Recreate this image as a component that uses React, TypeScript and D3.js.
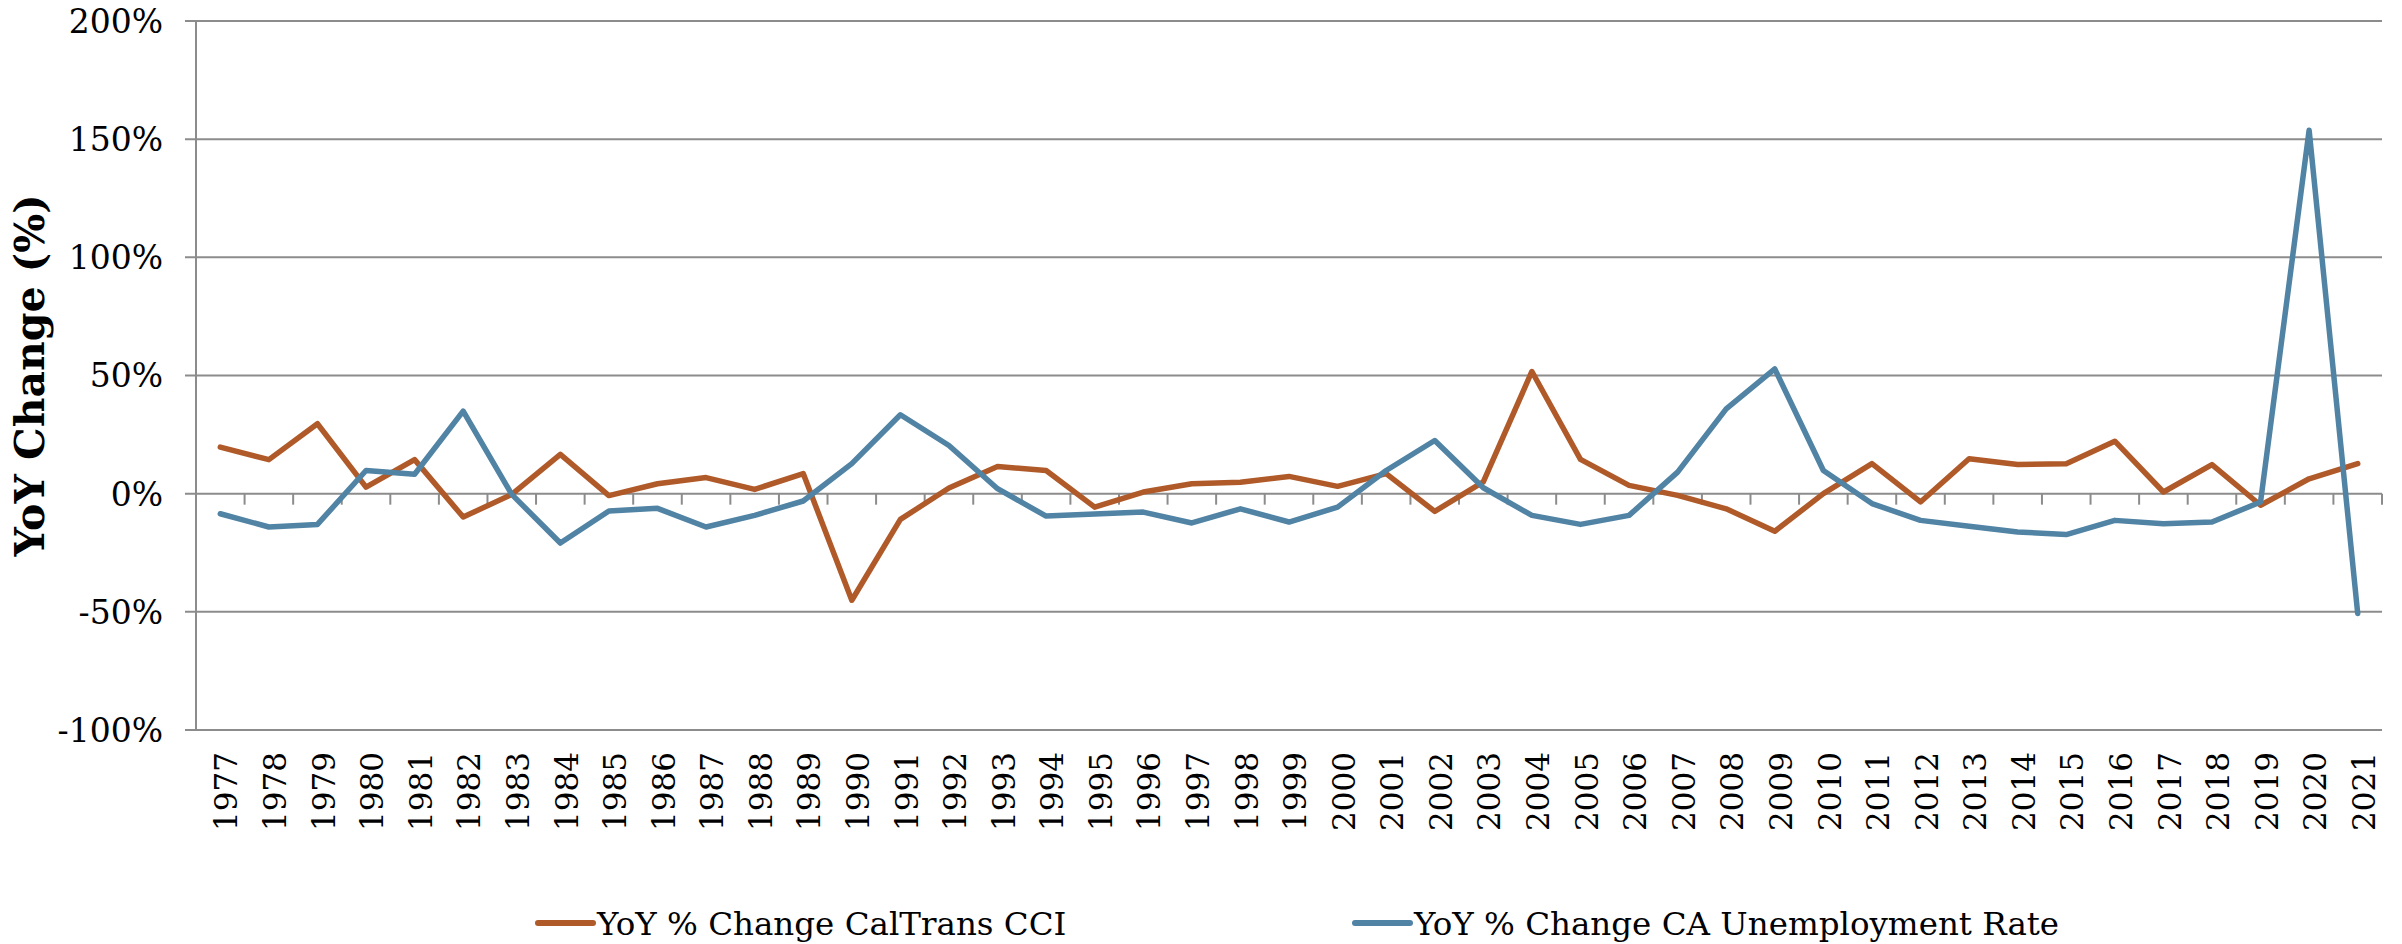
import { useEffect, useRef } from "react";
import * as d3 from "d3";

const years = [
  "1977", "1978", "1979", "1980", "1981", "1982", "1983", "1984", "1985", "1986",
  "1987", "1988", "1989", "1990", "1991", "1992", "1993", "1994", "1995", "1996",
  "1997", "1998", "1999", "2000", "2001", "2002", "2003", "2004", "2005", "2006",
  "2007", "2008", "2009", "2010", "2011", "2012", "2013", "2014", "2015", "2016",
  "2017", "2018", "2019", "2020", "2021",
];

// YoY % change, CalTrans construction cost index
const cciChange = [
  19.7, 14.4, 29.6, 2.8, 14.4, -9.9, -0.3, 16.6, -0.8, 4.2,
  6.8, 1.8, 8.5, -45.1, -10.9, 2.4, 11.5, 9.8, -5.7, 0.7,
  4.2, 4.8, 7.3, 3.1, 8.5, -7.5, 5.0, 51.7, 14.5, 3.5,
  -0.7, -6.4, -15.9, 0.0, 12.7, -3.5, 14.8, 12.3, 12.7, 22.2,
  0.7, 12.3, -4.9, 6.3, 12.7,
];

// YoY % change, CA unemployment rate
const unempChange = [
  -8.5, -14.1, -13.0, 9.8, 8.2, 34.9, -0.3, -20.9, -7.3, -6.2,
  -14.1, -9.2, -3.1, 12.7, 33.4, 20.4, 2.1, -9.5, -8.6, -7.8,
  -12.4, -6.4, -12.0, -5.7, 9.8, 22.5, 2.5, -9.2, -13.0, -9.2,
  9.1, 35.9, 52.8, 9.8, -4.2, -11.3, -13.8, -16.2, -17.3, -11.3,
  -12.7, -12.0, -3.5, 153.8, -50.7,
];

const yTicks = [-100, -50, 0, 50, 100, 150, 200];

const seriesNames = ["YoY % Change CalTrans CCI", "YoY % Change CA Unemployment Rate"];
const seriesColors = ["#B05A2A", "#5083A4"];

const FONT = "Georgia, 'DejaVu Serif', serif";

export default function App() {
  const svgRef = useRef(null);
  const width = 2402;
  const height = 944;

  useEffect(() => {
    const left = 196;
    const right = 2382;
    const top = 21;
    const bottom = 730;
    const grid = "#8C8C8C";

    const svg = d3.select(svgRef.current);
    svg.selectAll("*").remove();

    const x = d3.scaleBand().domain(years).range([left, right]).padding(0);
    const y = d3.scaleLinear().domain([-100, 200]).range([bottom, top]);
    const cx = (d) => x(d) + x.bandwidth() / 2;

    // gridlines
    svg
      .append("g")
      .selectAll("line")
      .data(yTicks)
      .join("line")
      .attr("x1", left - 11)
      .attr("x2", right)
      .attr("y1", (d) => y(d))
      .attr("y2", (d) => y(d))
      .attr("stroke", grid)
      .attr("stroke-width", 2);

    // y axis line
    svg
      .append("line")
      .attr("x1", left)
      .attr("x2", left)
      .attr("y1", y(200))
      .attr("y2", y(-100))
      .attr("stroke", grid)
      .attr("stroke-width", 2);

    // category ticks on the zero line
    const bounds = years.map((d) => x(d)).concat([right]);
    svg
      .append("g")
      .selectAll("line")
      .data(bounds)
      .join("line")
      .attr("x1", (d) => d)
      .attr("x2", (d) => d)
      .attr("y1", y(0))
      .attr("y2", y(0) + 11)
      .attr("stroke", grid)
      .attr("stroke-width", 2);

    // y tick labels
    svg
      .append("g")
      .selectAll("text")
      .data(yTicks)
      .join("text")
      .attr("x", 163)
      .attr("y", (d) => y(d))
      .attr("dy", "0.36em")
      .attr("text-anchor", "end")
      .attr("font-family", FONT)
      .attr("font-size", 33)
      .attr("fill", "#000")
      .text((d) => `${d}%`);

    // x labels (rotated)
    svg
      .append("g")
      .selectAll("text")
      .data(years)
      .join("text")
      .attr("transform", (d) => `translate(${cx(d) + 6},${bottom + 22}) rotate(-90)`)
      .attr("dy", "0.36em")
      .attr("text-anchor", "end")
      .attr("font-family", FONT)
      .attr("font-size", 31)
      .attr("fill", "#000")
      .text((d) => d);

    // axis title
    svg
      .append("text")
      .attr("transform", `translate(44,${(top + bottom) / 2}) rotate(-90)`)
      .attr("text-anchor", "middle")
      .attr("font-family", FONT)
      .attr("font-weight", "bold")
      .attr("font-size", 41)
      .attr("fill", "#000")
      .text("YoY Change (%)");

    // lines
    const line = d3
      .line()
      .x((d) => cx(d[0]))
      .y((d) => y(d[1]));

    [cciChange, unempChange].forEach((vals, i) => {
      svg
        .append("path")
        .datum(years.map((yr, j) => [yr, vals[j]]))
        .attr("d", line)
        .attr("fill", "none")
        .attr("stroke", seriesColors[i])
        .attr("stroke-width", 5.5)
        .attr("stroke-linejoin", "round")
        .attr("stroke-linecap", "round");
    });

    // legend
    const legendX = [538, 1355];
    const legend = svg
      .append("g")
      .selectAll("g")
      .data(seriesNames)
      .join("g")
      .attr("transform", (d, i) => `translate(${legendX[i]},923)`);

    legend
      .append("line")
      .attr("x1", 0)
      .attr("x2", 55)
      .attr("stroke", (d, i) => seriesColors[i])
      .attr("stroke-width", 6)
      .attr("stroke-linecap", "round");

    legend
      .append("text")
      .attr("x", 59)
      .attr("dy", "0.36em")
      .attr("font-family", FONT)
      .attr("font-size", 32.5)
      .attr("fill", "#000")
      .text((d) => d);
  }, []);

  return (
    <svg
      ref={svgRef}
      width={width}
      height={height}
      style={{ position: "absolute", left: 0, top: 0, background: "#fff" }}
    ></svg>
  );
}
